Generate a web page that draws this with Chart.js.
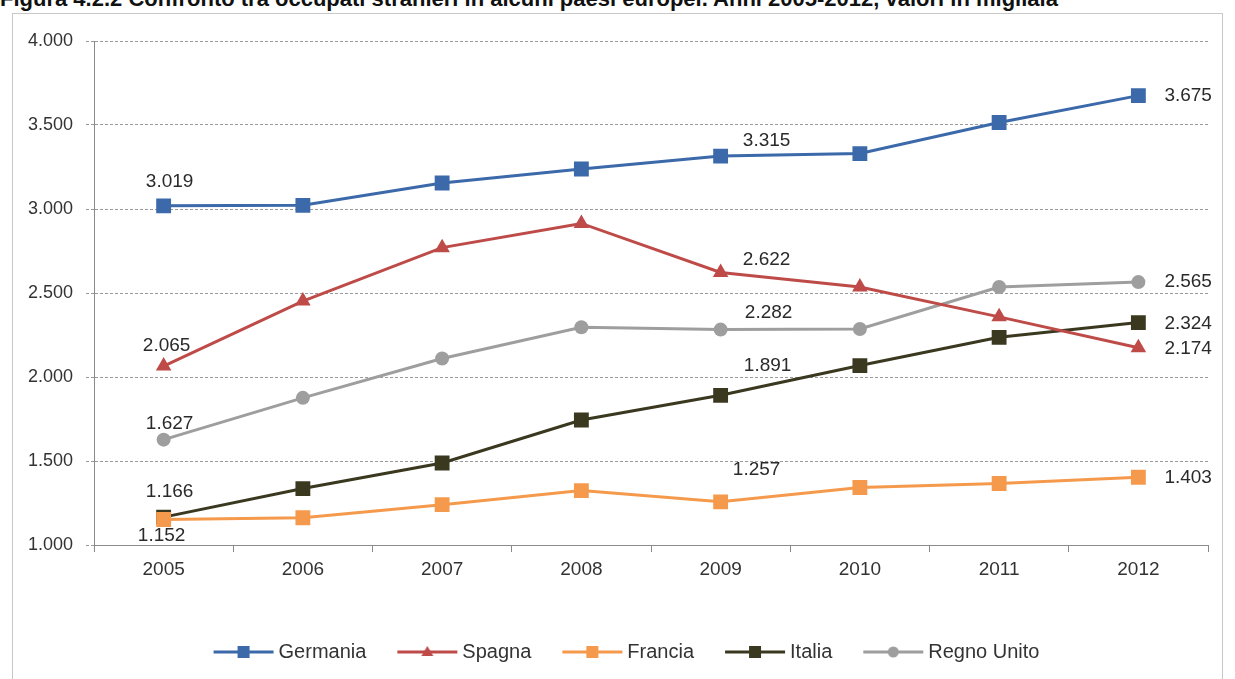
<!DOCTYPE html>
<html>
<head>
<meta charset="utf-8">
<script src="https://cdn.jsdelivr.net/npm/chart.js@4.4.1/dist/chart.umd.min.js"></script>
<style>
  html, body { margin: 0; padding: 0; background: #fff; overflow: hidden; width: 1235px; height: 679px; }
  #title {
    position: absolute; left: 0; top: -14px; white-space: nowrap;
    font: bold 22px "Liberation Sans", Arial, sans-serif; color: #111;
  }
  #frame {
    position: absolute; left: 12px; top: 13px; width: 1209px; height: 700px;
    border: 1px solid #c8c8c8;
  }
  #wrap { position: absolute; left: 0; top: 0; width: 1235px; height: 679px; }
</style>
</head>
<body>
<div id="title">Figura 4.2.2 Confronto tra occupati stranieri in alcuni paesi europei. Anni 2005-2012, valori in migliaia</div>
<div id="frame"></div>
<div id="wrap"><canvas id="lineChart"></canvas></div>
<script>
// valori in migliaia
const years = ['2005', '2006', '2007', '2008', '2009', '2010', '2011', '2012'];
const germania = [3019, 3022, 3155, 3238, 3315, 3330, 3515, 3675];
const spagna = [2065, 2452, 2770, 2914, 2622, 2536, 2358, 2174];
const francia = [1152, 1162, 1240, 1324, 1257, 1342, 1366, 1403];
const italia = [1166, 1336, 1488, 1744, 1891, 2068, 2236, 2324];
const regnoUnito = [1627, 1876, 2110, 2296, 2282, 2286, 2536, 2565];
const yTicks = [1000, 1500, 2000, 2500, 3000, 3500, 4000];
const labelledPoints = [0, 4, 7];

const FONT = '"Liberation Sans", Arial, sans-serif';

function fmt(v) {
  return String(Math.round(v)).replace(/\B(?=(\d{3})+(?!\d))/g, '.');
}

// icona legenda: linea con marcatore al centro
function legendIcon(color, style) {
  const c = document.createElement('canvas');
  c.width = 100; c.height = 18;
  const g = c.getContext('2d');
  g.strokeStyle = color; g.fillStyle = color; g.lineWidth = 3;
  g.beginPath(); g.moveTo(33, 9); g.lineTo(93, 9); g.stroke();
  const cx = 63;
  if (style === 'rect') {
    g.fillRect(cx - 6, 3, 12, 12);
  } else if (style === 'triangle') {
    g.beginPath(); g.moveTo(cx, 3); g.lineTo(cx + 6, 13); g.lineTo(cx - 6, 13); g.closePath(); g.fill();
  } else {
    g.beginPath(); g.arc(cx, 9, 5.5, 0, Math.PI * 2); g.fill();
  }
  return c;
}

function series(label, data, color, style, radius, offsets) {
  return {
    label: label,
    data: data,
    borderColor: color,
    backgroundColor: color,
    borderWidth: 3,
    pointStyle: style,
    pointRadius: radius,
    pointHoverRadius: radius,
    pointBorderWidth: 0,
    tension: 0,
    icon: legendIcon(color, style),
    labelOffsets: offsets
  };
}

// etichette dei valori sui punti scelti
const valueLabels = {
  id: 'valueLabels',
  afterDatasetsDraw(chart) {
    const ctx = chart.ctx;
    ctx.save();
    ctx.font = '19px ' + FONT;
    ctx.fillStyle = '#2a2a2a';
    ctx.textBaseline = 'middle';
    chart.data.datasets.forEach((ds, di) => {
      const meta = chart.getDatasetMeta(di);
      labelledPoints.forEach((idx, k) => {
        const pt = meta.data[idx];
        const off = ds.labelOffsets[k];
        ctx.textAlign = k === 2 ? 'left' : 'center';
        ctx.fillText(fmt(ds.data[idx]), pt.x + off[0], pt.y + off[1]);
      });
    });
    ctx.restore();
  }
};

new Chart(document.getElementById('lineChart'), {
  type: 'line',
  data: {
    labels: years,
    datasets: [
      series('Germania', germania, '#3b69aa', 'rect', 10.5, [[6, -24], [46, -15], [26, 0]]),
      series('Spagna', spagna, '#be4b48', 'triangle', 9, [[3, -20], [46, -13], [26, 1]]),
      series('Francia', francia, '#f59a4c', 'rect', 10.5, [[-2, 16], [36, -32], [26, 0]]),
      series('Italia', italia, '#3a3920', 'rect', 10.5, [[6, -25], [47, -30], [26, 1]]),
      series('Regno Unito', regnoUnito, '#9e9e9e', 'circle', 7, [[6, -16], [48, -17], [26, 0]])
    ]
  },
  options: {
    responsive: true,
    maintainAspectRatio: false,
    animation: false,
    layout: { padding: { left: 24, right: 27, top: 41, bottom: 7 } },
    plugins: {
      tooltip: { enabled: false },
      legend: {
        position: 'bottom',
        labels: {
          usePointStyle: true,
          pointStyleWidth: 76,
          padding: 10,
          color: '#333',
          font: { family: FONT, size: 20 },
          generateLabels(chart) {
            return chart.data.datasets.map((ds, i) => ({
              text: ds.label,
              pointStyle: ds.icon,
              fillStyle: ds.borderColor,
              strokeStyle: ds.borderColor,
              lineWidth: 0,
              fontColor: '#333',
              hidden: false,
              datasetIndex: i
            }));
          }
        }
      }
    },
    scales: {
      x: {
        offset: true,
        afterFit(scale) { scale.height = 87; },
        grid: {
          offset: true,
          drawOnChartArea: false,
          drawTicks: true,
          tickLength: 7,
          tickColor: '#8a8a8a'
        },
        border: { display: true, color: '#8a8a8a', width: 1 },
        ticks: {
          color: '#333',
          padding: 6,
          font: { family: FONT, size: 19 }
        }
      },
      y: {
        min: 1000,
        max: 4000,
        afterFit(scale) { scale.width = 70; },
        afterBuildTicks(scale) { scale.ticks = yTicks.map((v) => ({ value: v })); },
        grid: {
          color: '#9a9a9a',
          lineWidth: 1,
          tickLength: 8,
          tickColor: '#9a9a9a',
          tickBorderDash: [3, 2]
        },
        border: { display: true, color: '#8a8a8a', width: 1, dash: [3, 2] },
        ticks: {
          color: '#333',
          padding: 13,
          font: { family: FONT, size: 18 },
          callback: function(value) { return fmt(value); }
        }
      }
    }
  },
  plugins: [valueLabels]
});
</script>
</body>
</html>
